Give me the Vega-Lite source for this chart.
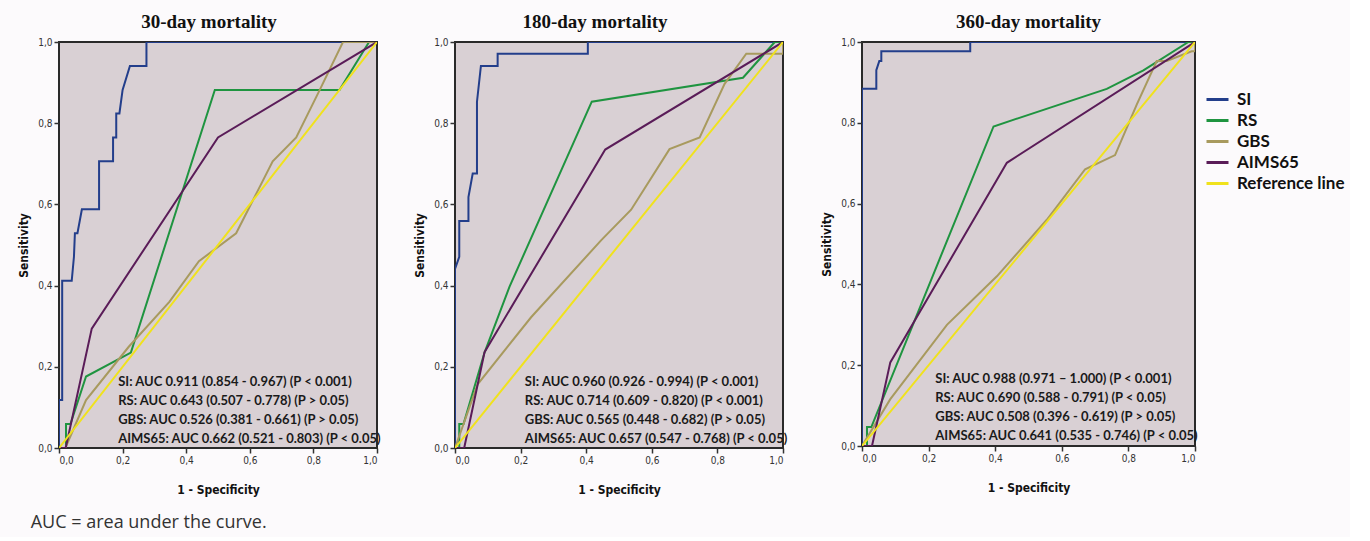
{
  "$schema": "https://vega.github.io/schema/vega-lite/v6.json",
  "background": "#fcfafc",
  "padding": {"left": 16, "top": 12, "right": 5, "bottom": 5},
  "datasets": {
    "roc": [
      {"panel": "30-day mortality", "score": "SI", "fpr": 0, "tpr": 0},
      {"panel": "30-day mortality", "score": "SI", "fpr": 0, "tpr": 0.118},
      {"panel": "30-day mortality", "score": "SI", "fpr": 0.01, "tpr": 0.118},
      {"panel": "30-day mortality", "score": "SI", "fpr": 0.01, "tpr": 0.412},
      {"panel": "30-day mortality", "score": "SI", "fpr": 0.04, "tpr": 0.412},
      {"panel": "30-day mortality", "score": "SI", "fpr": 0.047, "tpr": 0.471},
      {"panel": "30-day mortality", "score": "SI", "fpr": 0.05, "tpr": 0.529},
      {"panel": "30-day mortality", "score": "SI", "fpr": 0.058, "tpr": 0.529},
      {"panel": "30-day mortality", "score": "SI", "fpr": 0.072, "tpr": 0.588},
      {"panel": "30-day mortality", "score": "SI", "fpr": 0.126, "tpr": 0.588},
      {"panel": "30-day mortality", "score": "SI", "fpr": 0.126, "tpr": 0.706},
      {"panel": "30-day mortality", "score": "SI", "fpr": 0.17, "tpr": 0.706},
      {"panel": "30-day mortality", "score": "SI", "fpr": 0.17, "tpr": 0.765},
      {"panel": "30-day mortality", "score": "SI", "fpr": 0.18, "tpr": 0.765},
      {"panel": "30-day mortality", "score": "SI", "fpr": 0.18, "tpr": 0.824},
      {"panel": "30-day mortality", "score": "SI", "fpr": 0.19, "tpr": 0.824},
      {"panel": "30-day mortality", "score": "SI", "fpr": 0.2, "tpr": 0.882},
      {"panel": "30-day mortality", "score": "SI", "fpr": 0.223, "tpr": 0.941},
      {"panel": "30-day mortality", "score": "SI", "fpr": 0.275, "tpr": 0.941},
      {"panel": "30-day mortality", "score": "SI", "fpr": 0.275, "tpr": 1},
      {"panel": "30-day mortality", "score": "SI", "fpr": 1, "tpr": 1},
      {"panel": "30-day mortality", "score": "RS", "fpr": 0, "tpr": 0},
      {"panel": "30-day mortality", "score": "RS", "fpr": 0.022, "tpr": 0},
      {"panel": "30-day mortality", "score": "RS", "fpr": 0.022, "tpr": 0.059},
      {"panel": "30-day mortality", "score": "RS", "fpr": 0.036, "tpr": 0.059},
      {"panel": "30-day mortality", "score": "RS", "fpr": 0.085, "tpr": 0.176},
      {"panel": "30-day mortality", "score": "RS", "fpr": 0.226, "tpr": 0.235},
      {"panel": "30-day mortality", "score": "RS", "fpr": 0.49, "tpr": 0.882},
      {"panel": "30-day mortality", "score": "RS", "fpr": 0.882, "tpr": 0.882},
      {"panel": "30-day mortality", "score": "RS", "fpr": 0.975, "tpr": 1},
      {"panel": "30-day mortality", "score": "RS", "fpr": 1, "tpr": 1},
      {"panel": "30-day mortality", "score": "GBS", "fpr": 0, "tpr": 0},
      {"panel": "30-day mortality", "score": "GBS", "fpr": 0.02, "tpr": 0},
      {"panel": "30-day mortality", "score": "GBS", "fpr": 0.085, "tpr": 0.118},
      {"panel": "30-day mortality", "score": "GBS", "fpr": 0.22, "tpr": 0.25},
      {"panel": "30-day mortality", "score": "GBS", "fpr": 0.347, "tpr": 0.36},
      {"panel": "30-day mortality", "score": "GBS", "fpr": 0.44, "tpr": 0.46},
      {"panel": "30-day mortality", "score": "GBS", "fpr": 0.557, "tpr": 0.529},
      {"panel": "30-day mortality", "score": "GBS", "fpr": 0.672, "tpr": 0.706},
      {"panel": "30-day mortality", "score": "GBS", "fpr": 0.746, "tpr": 0.765},
      {"panel": "30-day mortality", "score": "GBS", "fpr": 0.82, "tpr": 0.882},
      {"panel": "30-day mortality", "score": "GBS", "fpr": 0.893, "tpr": 1},
      {"panel": "30-day mortality", "score": "GBS", "fpr": 1, "tpr": 1},
      {"panel": "30-day mortality", "score": "AIMS65", "fpr": 0, "tpr": 0},
      {"panel": "30-day mortality", "score": "AIMS65", "fpr": 0.021, "tpr": 0},
      {"panel": "30-day mortality", "score": "AIMS65", "fpr": 0.103, "tpr": 0.294},
      {"panel": "30-day mortality", "score": "AIMS65", "fpr": 0.5, "tpr": 0.765},
      {"panel": "30-day mortality", "score": "AIMS65", "fpr": 1, "tpr": 1},
      {"panel": "30-day mortality", "score": "Reference line", "fpr": 0, "tpr": 0},
      {"panel": "30-day mortality", "score": "Reference line", "fpr": 1, "tpr": 1},

      {"panel": "180-day mortality", "score": "SI", "fpr": 0, "tpr": 0},
      {"panel": "180-day mortality", "score": "SI", "fpr": 0, "tpr": 0.441},
      {"panel": "180-day mortality", "score": "SI", "fpr": 0.013, "tpr": 0.471},
      {"panel": "180-day mortality", "score": "SI", "fpr": 0.013, "tpr": 0.559},
      {"panel": "180-day mortality", "score": "SI", "fpr": 0.041, "tpr": 0.559},
      {"panel": "180-day mortality", "score": "SI", "fpr": 0.041, "tpr": 0.618},
      {"panel": "180-day mortality", "score": "SI", "fpr": 0.054, "tpr": 0.676},
      {"panel": "180-day mortality", "score": "SI", "fpr": 0.067, "tpr": 0.676},
      {"panel": "180-day mortality", "score": "SI", "fpr": 0.067, "tpr": 0.853},
      {"panel": "180-day mortality", "score": "SI", "fpr": 0.079, "tpr": 0.941},
      {"panel": "180-day mortality", "score": "SI", "fpr": 0.13, "tpr": 0.941},
      {"panel": "180-day mortality", "score": "SI", "fpr": 0.13, "tpr": 0.971},
      {"panel": "180-day mortality", "score": "SI", "fpr": 0.405, "tpr": 0.971},
      {"panel": "180-day mortality", "score": "SI", "fpr": 0.405, "tpr": 1},
      {"panel": "180-day mortality", "score": "SI", "fpr": 1, "tpr": 1},
      {"panel": "180-day mortality", "score": "RS", "fpr": 0, "tpr": 0},
      {"panel": "180-day mortality", "score": "RS", "fpr": 0.013, "tpr": 0},
      {"panel": "180-day mortality", "score": "RS", "fpr": 0.013, "tpr": 0.059},
      {"panel": "180-day mortality", "score": "RS", "fpr": 0.026, "tpr": 0.059},
      {"panel": "180-day mortality", "score": "RS", "fpr": 0.09, "tpr": 0.235},
      {"panel": "180-day mortality", "score": "RS", "fpr": 0.166, "tpr": 0.397},
      {"panel": "180-day mortality", "score": "RS", "fpr": 0.417, "tpr": 0.853},
      {"panel": "180-day mortality", "score": "RS", "fpr": 0.878, "tpr": 0.912},
      {"panel": "180-day mortality", "score": "RS", "fpr": 0.975, "tpr": 1},
      {"panel": "180-day mortality", "score": "RS", "fpr": 1, "tpr": 1},
      {"panel": "180-day mortality", "score": "GBS", "fpr": 0, "tpr": 0},
      {"panel": "180-day mortality", "score": "GBS", "fpr": 0.069, "tpr": 0.157},
      {"panel": "180-day mortality", "score": "GBS", "fpr": 0.232, "tpr": 0.322},
      {"panel": "180-day mortality", "score": "GBS", "fpr": 0.446, "tpr": 0.512},
      {"panel": "180-day mortality", "score": "GBS", "fpr": 0.537, "tpr": 0.587},
      {"panel": "180-day mortality", "score": "GBS", "fpr": 0.654, "tpr": 0.736},
      {"panel": "180-day mortality", "score": "GBS", "fpr": 0.746, "tpr": 0.765},
      {"panel": "180-day mortality", "score": "GBS", "fpr": 0.822, "tpr": 0.897},
      {"panel": "180-day mortality", "score": "GBS", "fpr": 0.888, "tpr": 0.971},
      {"panel": "180-day mortality", "score": "GBS", "fpr": 1, "tpr": 0.971},
      {"panel": "180-day mortality", "score": "GBS", "fpr": 1, "tpr": 1},
      {"panel": "180-day mortality", "score": "AIMS65", "fpr": 0, "tpr": 0},
      {"panel": "180-day mortality", "score": "AIMS65", "fpr": 0.028, "tpr": 0},
      {"panel": "180-day mortality", "score": "AIMS65", "fpr": 0.09, "tpr": 0.236},
      {"panel": "180-day mortality", "score": "AIMS65", "fpr": 0.458, "tpr": 0.735},
      {"panel": "180-day mortality", "score": "AIMS65", "fpr": 1, "tpr": 1},
      {"panel": "180-day mortality", "score": "Reference line", "fpr": 0, "tpr": 0},
      {"panel": "180-day mortality", "score": "Reference line", "fpr": 1, "tpr": 1},

      {"panel": "360-day mortality", "score": "SI", "fpr": 0, "tpr": 0},
      {"panel": "360-day mortality", "score": "SI", "fpr": 0, "tpr": 0.884},
      {"panel": "360-day mortality", "score": "SI", "fpr": 0.043, "tpr": 0.884},
      {"panel": "360-day mortality", "score": "SI", "fpr": 0.043, "tpr": 0.93},
      {"panel": "360-day mortality", "score": "SI", "fpr": 0.052, "tpr": 0.953},
      {"panel": "360-day mortality", "score": "SI", "fpr": 0.058, "tpr": 0.953},
      {"panel": "360-day mortality", "score": "SI", "fpr": 0.058, "tpr": 0.977},
      {"panel": "360-day mortality", "score": "SI", "fpr": 0.325, "tpr": 0.977},
      {"panel": "360-day mortality", "score": "SI", "fpr": 0.325, "tpr": 1},
      {"panel": "360-day mortality", "score": "SI", "fpr": 1, "tpr": 1},
      {"panel": "360-day mortality", "score": "RS", "fpr": 0, "tpr": 0},
      {"panel": "360-day mortality", "score": "RS", "fpr": 0.015, "tpr": 0},
      {"panel": "360-day mortality", "score": "RS", "fpr": 0.015, "tpr": 0.047},
      {"panel": "360-day mortality", "score": "RS", "fpr": 0.028, "tpr": 0.047},
      {"panel": "360-day mortality", "score": "RS", "fpr": 0.395, "tpr": 0.791},
      {"panel": "360-day mortality", "score": "RS", "fpr": 0.735, "tpr": 0.884},
      {"panel": "360-day mortality", "score": "RS", "fpr": 0.845, "tpr": 0.93},
      {"panel": "360-day mortality", "score": "RS", "fpr": 0.98, "tpr": 1},
      {"panel": "360-day mortality", "score": "RS", "fpr": 1, "tpr": 1},
      {"panel": "360-day mortality", "score": "GBS", "fpr": 0, "tpr": 0},
      {"panel": "360-day mortality", "score": "GBS", "fpr": 0.085, "tpr": 0.116},
      {"panel": "360-day mortality", "score": "GBS", "fpr": 0.255, "tpr": 0.3},
      {"panel": "360-day mortality", "score": "GBS", "fpr": 0.405, "tpr": 0.42},
      {"panel": "360-day mortality", "score": "GBS", "fpr": 0.555, "tpr": 0.56},
      {"panel": "360-day mortality", "score": "GBS", "fpr": 0.67, "tpr": 0.685},
      {"panel": "360-day mortality", "score": "GBS", "fpr": 0.76, "tpr": 0.72},
      {"panel": "360-day mortality", "score": "GBS", "fpr": 0.825, "tpr": 0.845},
      {"panel": "360-day mortality", "score": "GBS", "fpr": 0.885, "tpr": 0.953},
      {"panel": "360-day mortality", "score": "GBS", "fpr": 0.915, "tpr": 0.953},
      {"panel": "360-day mortality", "score": "GBS", "fpr": 0.99, "tpr": 0.977},
      {"panel": "360-day mortality", "score": "GBS", "fpr": 1, "tpr": 0.977},
      {"panel": "360-day mortality", "score": "GBS", "fpr": 1, "tpr": 1},
      {"panel": "360-day mortality", "score": "AIMS65", "fpr": 0, "tpr": 0},
      {"panel": "360-day mortality", "score": "AIMS65", "fpr": 0.03, "tpr": 0},
      {"panel": "360-day mortality", "score": "AIMS65", "fpr": 0.085, "tpr": 0.207},
      {"panel": "360-day mortality", "score": "AIMS65", "fpr": 0.435, "tpr": 0.701},
      {"panel": "360-day mortality", "score": "AIMS65", "fpr": 1, "tpr": 1},
      {"panel": "360-day mortality", "score": "Reference line", "fpr": 0, "tpr": 0},
      {"panel": "360-day mortality", "score": "Reference line", "fpr": 1, "tpr": 1}
    ],
    "ann": [
      {"panel": "30-day mortality", "lines": ["SI: AUC 0.911 (0.854 - 0.967) (P < 0.001)", "RS: AUC 0.643 (0.507 - 0.778) (P > 0.05)", "GBS: AUC 0.526 (0.381 - 0.661) (P > 0.05)", "AIMS65: AUC 0.662 (0.521 - 0.803) (P < 0.05)"]},
      {"panel": "180-day mortality", "lines": ["SI: AUC 0.960 (0.926 - 0.994) (P < 0.001)", "RS: AUC 0.714 (0.609 - 0.820) (P < 0.001)", "GBS: AUC 0.565 (0.448 - 0.682) (P > 0.05)", "AIMS65: AUC 0.657 (0.547 - 0.768) (P < 0.05)"]},
      {"panel": "360-day mortality", "lines": ["SI: AUC 0.988 (0.971 – 1.000) (P < 0.001)", "RS: AUC 0.690 (0.588 - 0.791) (P < 0.05)", "GBS: AUC 0.508 (0.396 - 0.619) (P > 0.05)", "AIMS65: AUC 0.641 (0.535 - 0.746) (P < 0.05)"]}
    ]
  },
  "title": {
    "text": "AUC = area under the curve.",
    "orient": "bottom",
    "anchor": "start",
    "font": "Open Sans",
    "fontSize": 18,
    "fontWeight": "normal",
    "color": "#333333",
    "offset": 18,
    "dx": 14
  },
  "spacing": 29,
  "hconcat": [
    {
      "width": 318,
      "height": 406,
      "title": {"text": "30-day mortality", "dx": -9},
      "layer": [
        {
          "data": {"name": "roc"},
          "transform": [{"filter": "datum.panel === '30-day mortality'"}],
          "mark": {"type": "line", "strokeWidth": 2, "clip": true},
          "encoding": {
            "x": {"field": "fpr", "type": "quantitative", "scale": {"domain": [0, 1]}, "axis": {"title": "1 - Specificity", "tickCount": 5}},
            "y": {"field": "tpr", "type": "quantitative", "scale": {"domain": [0, 1]}, "axis": {"title": "Sensitivity", "tickCount": 5}},
            "color": {"field": "score", "type": "nominal", "scale": {"domain": ["SI", "RS", "GBS", "AIMS65", "Reference line"], "range": ["#233e8b", "#1f9440", "#a89a5e", "#5a1c58", "#f0e21c"]}, "legend": {"title": null}},
            "order": {"value": null}
          }
        },
        {
          "data": {"name": "ann"},
          "transform": [{"filter": "datum.panel === '30-day mortality'"}],
          "mark": {"type": "text", "align": "left", "baseline": "alphabetic", "lineHeight": 19, "font": "Lato", "fontSize": 13, "fontWeight": "bold", "color": "#1a1a1a"},
          "encoding": {
            "x": {"datum": 0.186, "type": "quantitative"},
            "y": {"datum": 0.153, "type": "quantitative"},
            "text": {"field": "lines", "type": "nominal"}
          }
        }
      ]
    },
    {
      "width": 328,
      "height": 406,
      "title": {"text": "180-day mortality", "dx": -24},
      "layer": [
        {
          "data": {"name": "roc"},
          "transform": [{"filter": "datum.panel === '180-day mortality'"}],
          "mark": {"type": "line", "strokeWidth": 2, "clip": true},
          "encoding": {
            "x": {"field": "fpr", "type": "quantitative", "scale": {"domain": [0, 1]}, "axis": {"title": "1 - Specificity", "tickCount": 5}},
            "y": {"field": "tpr", "type": "quantitative", "scale": {"domain": [0, 1]}, "axis": {"title": "Sensitivity", "tickCount": 5}},
            "color": {"field": "score", "type": "nominal", "scale": {"domain": ["SI", "RS", "GBS", "AIMS65", "Reference line"], "range": ["#233e8b", "#1f9440", "#a89a5e", "#5a1c58", "#f0e21c"]}, "legend": {"title": null}},
            "order": {"value": null}
          }
        },
        {
          "data": {"name": "ann"},
          "transform": [{"filter": "datum.panel === '180-day mortality'"}],
          "mark": {"type": "text", "align": "left", "baseline": "alphabetic", "lineHeight": 19, "font": "Lato", "fontSize": 13, "fontWeight": "bold", "color": "#1a1a1a"},
          "encoding": {
            "x": {"datum": 0.213, "type": "quantitative"},
            "y": {"datum": 0.153, "type": "quantitative"},
            "text": {"field": "lines", "type": "nominal"}
          }
        }
      ]
    },
    {
      "width": 333,
      "height": 404,
      "title": {"text": "360-day mortality"},
      "layer": [
        {
          "data": {"name": "roc"},
          "transform": [{"filter": "datum.panel === '360-day mortality'"}],
          "mark": {"type": "line", "strokeWidth": 2, "clip": true},
          "encoding": {
            "x": {"field": "fpr", "type": "quantitative", "scale": {"domain": [0, 1]}, "axis": {"title": "1 - Specificity", "tickCount": 5}},
            "y": {"field": "tpr", "type": "quantitative", "scale": {"domain": [0, 1]}, "axis": {"title": "Sensitivity", "tickCount": 5}},
            "color": {"field": "score", "type": "nominal", "scale": {"domain": ["SI", "RS", "GBS", "AIMS65", "Reference line"], "range": ["#233e8b", "#1f9440", "#a89a5e", "#5a1c58", "#f0e21c"]}, "legend": {"title": null}},
            "order": {"value": null}
          }
        },
        {
          "data": {"name": "ann"},
          "transform": [{"filter": "datum.panel === '360-day mortality'"}],
          "mark": {"type": "text", "align": "left", "baseline": "alphabetic", "lineHeight": 19, "font": "Lato", "fontSize": 13, "fontWeight": "bold", "color": "#1a1a1a"},
          "encoding": {
            "x": {"datum": 0.22, "type": "quantitative"},
            "y": {"datum": 0.156, "type": "quantitative"},
            "text": {"field": "lines", "type": "nominal"}
          }
        }
      ]
    }
  ],
  "config": {
    "view": {"fill": "#d9d0d4", "stroke": "#2a2a2a", "strokeWidth": 2},
    "title": {"font": "Liberation Serif", "fontSize": 19, "fontWeight": "bold", "color": "#111111", "offset": 5, "anchor": "middle"},
    "axis": {
      "grid": false,
      "domain": false,
      "ticks": true,
      "tickColor": "#333333",
      "tickSize": 5,
      "tickWidth": 1.5,
      "labelFont": "Liberation Sans Narrow, Arial Narrow, DejaVu Sans Condensed, sans-serif",
      "labelFontSize": 10,
      "labelColor": "#333333",
      "labelPadding": 2,
      "labelExpr": "replace(format(datum.value, '.1f'), '.', ',')",
      "titleFont": "Liberation Sans Narrow, Arial Narrow, DejaVu Sans Condensed, sans-serif",
      "titleFontSize": 12,
      "titleFontWeight": "bold",
      "titleColor": "#111111"
    },
    "axisX": {"titlePadding": 19},
    "axisY": {"titlePadding": 7},
    "legend": {
      "orient": "none",
      "legendX": 1146,
      "legendY": 45,
      "symbolType": "stroke",
      "symbolSize": 484,
      "symbolStrokeWidth": 3,
      "labelFont": "Lato",
      "labelFontSize": 17,
      "labelFontWeight": "bold",
      "labelColor": "#111111",
      "labelOffset": 7,
      "rowPadding": -1,
      "labelExpr": "datum.label == 'Reference line' ? '\u00a0Reference line' : datum.label"
    }
  }
}
